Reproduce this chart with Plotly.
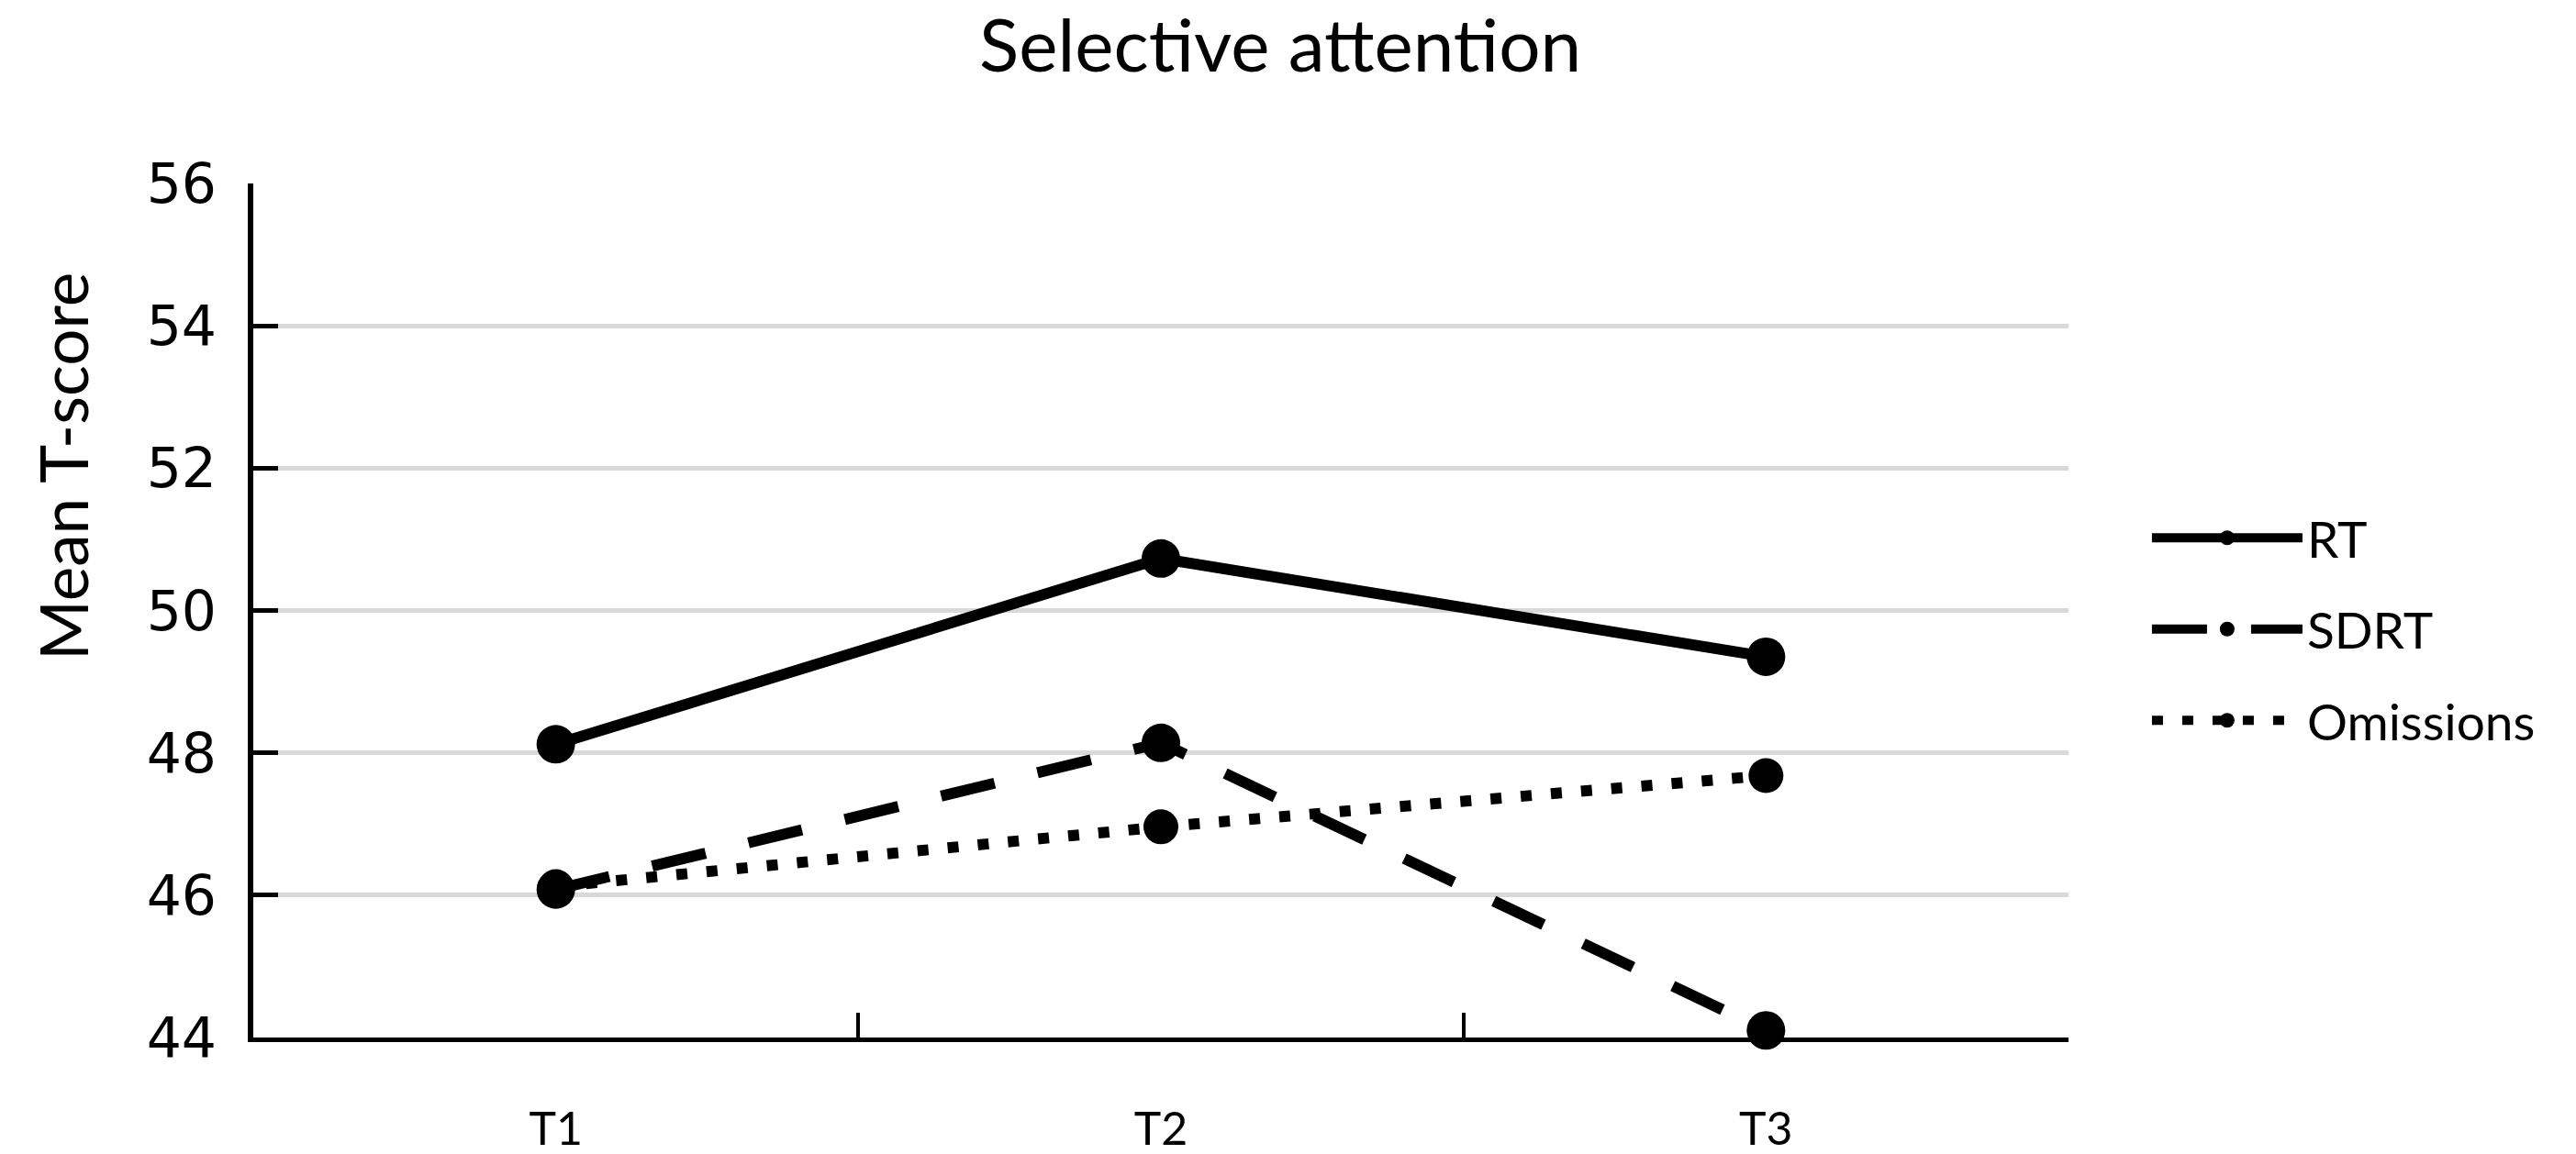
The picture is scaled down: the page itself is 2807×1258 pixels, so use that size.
import plotly.graph_objects as go

# ---- data ----
categories = ["T1", "T2", "T3"]
rt_values = [48.12, 50.73, 49.35]
sdrt_values = [46.08, 48.14, 44.1]
omissions_values = [46.12, 46.96, 47.68]
series_names = ["RT", "SDRT", "Omissions"]
y_ticks = [44, 46, 48, 50, 52, 54, 56]

TXT_FONT = "Lato, 'Open Sans', sans-serif"
NUM_FONT = "'DejaVu Sans', Verdana, sans-serif"

fig = go.Figure()

fig.add_trace(go.Scatter(
    x=categories, y=rt_values, name=series_names[0], mode="lines+markers",
    line=dict(color="black", width=12, dash="solid"),
    marker=dict(symbol="circle", size=42, color="black"),
    cliponaxis=False, legendgroup="a",
))
fig.add_trace(go.Scatter(
    x=categories, y=sdrt_values, name=series_names[1], mode="lines+markers",
    line=dict(color="black", width=12, dash="60px,48px"),
    marker=dict(symbol="circle", size=42, color="black"),
    cliponaxis=False, legendgroup="b",
))
fig.add_trace(go.Scatter(
    x=categories, y=omissions_values, name=series_names[2], mode="lines+markers",
    line=dict(color="black", width=12, dash="12px,21px"),
    marker=dict(symbol="circle", size=38, color="black"),
    cliponaxis=False, legendgroup="c",
))

fig.update_layout(
    width=2807, height=1258,
    paper_bgcolor="white", plot_bgcolor="white",
    margin=dict(l=276, r=553, t=200, b=127, autoexpand=False),
    title=dict(
        text="Selective attention", x=0.497, xref="container", xanchor="center",
        y=1 - 50 / 1258, yref="container", yanchor="middle",
        font=dict(family=TXT_FONT, size=80, color="black"),
    ),
    showlegend=True,
    legend=dict(
        xref="container", yref="container", x=0.8336, y=1 - 686 / 1258,
        xanchor="left", yanchor="middle",
        font=dict(family=TXT_FONT, size=55, color="black"),
        itemwidth=164, tracegroupgap=25, traceorder="grouped",
        bgcolor="rgba(0,0,0,0)",
    ),
    annotations=[dict(
        text="Mean T-score", textangle=-90, showarrow=False,
        xref="paper", yref="paper", x=-0.1052, y=0.669,
        xanchor="center", yanchor="middle",
        font=dict(family=TXT_FONT, size=71, color="black"),
    )],
)

fig.update_xaxes(
    type="category", categoryorder="array", categoryarray=categories,
    range=[-0.5, 2.5], tickson="boundaries",
    showline=True, linecolor="black", linewidth=5,
    ticks="inside", ticklen=27, tickwidth=4, tickcolor="black",
    showgrid=False, zeroline=False,
    tickfont=dict(family=TXT_FONT, size=50, color="black"),
    ticklabelstandoff=52, layer="below traces",
)
fig.update_yaxes(
    range=[44, 56], tickvals=y_ticks, ticktext=[str(v) for v in y_ticks],
    showline=True, linecolor="black", linewidth=6,
    ticks="inside", ticklen=27, tickwidth=5, tickcolor="black",
    showgrid=True, gridcolor="#d9d9d9", gridwidth=5, zeroline=False,
    tickfont=dict(family=NUM_FONT, size=60, color="black"),
    ticklabelstandoff=22, layer="below traces",
)

fig.write_html("out.html", config={"displayModeBar": False},
               post_script="document.body.style.margin='0';")
